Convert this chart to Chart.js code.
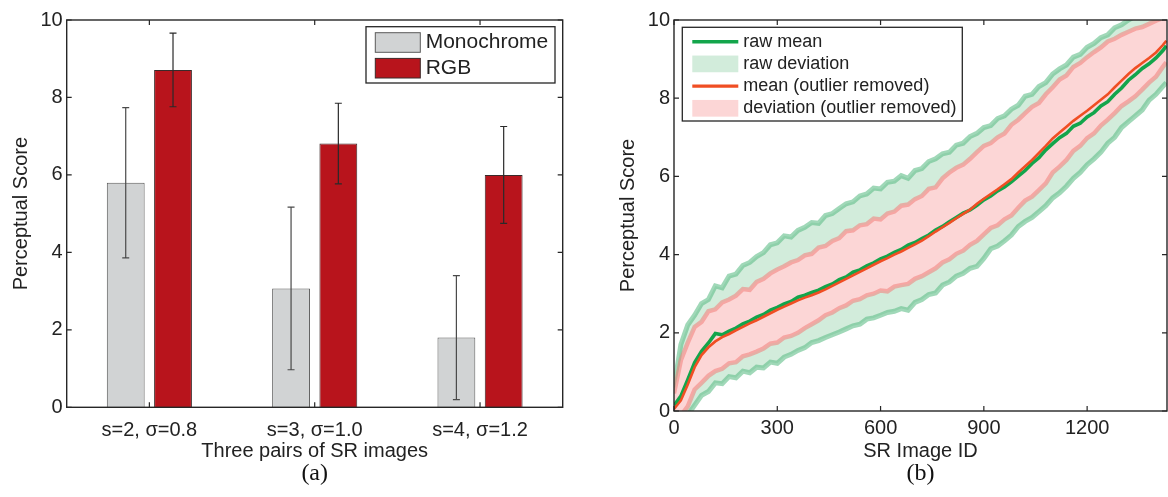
<!DOCTYPE html>
<html>
<head>
<meta charset="utf-8">
<title>Perceptual scores of SR images</title>
<script src="https://cdn.jsdelivr.net/npm/chart.js@4.4.1/dist/chart.umd.min.js"></script>
<style>
    html, body { margin: 0; padding: 0; background: #fff; }
    .panel { position: absolute; top: 0; width: 584px; height: 497px; }
</style>
</head>
<body>
<div class="panel" style="left:0"><canvas id="chart-a" width="584" height="497"></canvas></div>
<div class="panel" style="left:584px"><canvas id="chart-b" width="584" height="497"></canvas></div>
<script>
// (a) three pairs of SR images
const groupLabels = ['s=2, σ=0.8', 's=3, σ=1.0', 's=4, σ=1.2'];
const monoScore = [5.80, 3.07, 1.80];
const monoErr = [1.94, 2.10, 1.60];
const rgbScore = [8.71, 6.81, 6.00];
const rgbErr = [0.95, 1.04, 1.25];

// (b) per-image scores, every 20 ids
const idTicks = [0, 300, 600, 900, 1200];
const imageIds = [
    0, 20, 40, 60, 80, 100, 120, 140, 160, 180,
    200, 220, 240, 260, 280, 300, 320, 340, 360, 380,
    400, 420, 440, 460, 480, 500, 520, 540, 560, 580,
    600, 620, 640, 660, 680, 700, 720, 740, 760, 780,
    800, 820, 840, 860, 880, 900, 920, 940, 960, 980,
    1000, 1020, 1040, 1060, 1080, 1100, 1120, 1140, 1160, 1180,
    1200, 1220, 1240, 1260, 1280, 1300, 1320, 1340, 1360, 1380,
    1400, 1420, 1430
];
const rawMean = [
    0.14, 0.38, 0.80, 1.24, 1.53, 1.74, 1.98, 1.95, 2.04, 2.12,
    2.23, 2.30, 2.40, 2.47, 2.58, 2.65, 2.74, 2.80, 2.91, 2.96,
    3.03, 3.09, 3.18, 3.25, 3.36, 3.43, 3.55, 3.61, 3.71, 3.79,
    3.89, 3.96, 4.06, 4.13, 4.24, 4.31, 4.41, 4.50, 4.63, 4.72,
    4.84, 4.95, 5.06, 5.14, 5.26, 5.40, 5.50, 5.63, 5.73, 5.86,
    6.01, 6.15, 6.33, 6.48, 6.68, 6.84, 6.99, 7.10, 7.28, 7.36,
    7.52, 7.63, 7.80, 7.91, 8.10, 8.26, 8.46, 8.60, 8.76, 8.88,
    9.03, 9.22, 9.34
];
const rawDevHigh = [
    0.60, 1.70, 2.20, 2.45, 2.75, 2.85, 3.20, 3.15, 3.45, 3.50,
    3.72, 3.80, 3.95, 4.05, 4.25, 4.30, 4.48, 4.45, 4.62, 4.70,
    4.82, 4.80, 5.00, 5.05, 5.18, 5.30, 5.35, 5.50, 5.55, 5.70,
    5.68, 5.85, 5.88, 6.02, 5.95, 6.15, 6.20, 6.38, 6.45, 6.58,
    6.62, 6.80, 6.85, 7.02, 7.10, 7.25, 7.30, 7.48, 7.55, 7.72,
    7.82, 8.05, 8.10, 8.30, 8.40, 8.62, 8.75, 8.85, 9.05, 9.12,
    9.30, 9.40, 9.55, 9.62, 9.80, 9.88, 10.0, 10.1, 10.2, 10.25,
    10.3, 10.4, 10.45
];
const rawDevLow = [
    -0.50, -0.35, -0.10, 0.15, 0.40, 0.50, 0.72, 0.70, 0.88, 0.85,
    1.02, 0.98, 1.12, 1.10, 1.25, 1.22, 1.38, 1.45, 1.55, 1.62,
    1.75, 1.80, 1.88, 1.95, 2.02, 2.10, 2.18, 2.22, 2.35, 2.38,
    2.45, 2.52, 2.55, 2.62, 2.58, 2.78, 2.85, 2.98, 3.02, 3.22,
    3.30, 3.45, 3.52, 3.65, 3.70, 3.90, 4.15, 4.22, 4.35, 4.50,
    4.72, 4.85, 4.95, 5.10, 5.25, 5.45, 5.58, 5.75, 5.95, 6.10,
    6.30, 6.45, 6.62, 6.85, 7.00, 7.25, 7.40, 7.55, 7.70, 7.95,
    8.10, 8.30, 8.40
];
const cleanMean = [
    0.05, 0.27, 0.68, 1.12, 1.43, 1.63, 1.78, 1.89, 1.97, 2.06,
    2.15, 2.24, 2.32, 2.41, 2.50, 2.59, 2.67, 2.75, 2.83, 2.90,
    2.96, 3.03, 3.11, 3.20, 3.29, 3.38, 3.47, 3.56, 3.65, 3.74,
    3.83, 3.91, 4.00, 4.08, 4.17, 4.26, 4.36, 4.47, 4.59, 4.70,
    4.81, 4.93, 5.04, 5.15, 5.30, 5.43, 5.55, 5.67, 5.80, 5.93,
    6.10, 6.26, 6.42, 6.60, 6.78, 6.97, 7.12, 7.27, 7.42, 7.55,
    7.68, 7.82, 7.96, 8.10, 8.28, 8.45, 8.62, 8.77, 8.90, 9.03,
    9.17, 9.36, 9.47
];
const cleanDevHigh = [
    0.45, 1.30, 1.75, 2.15, 2.28, 2.55, 2.60, 2.78, 2.85, 2.95,
    3.12, 3.10, 3.30, 3.38, 3.52, 3.62, 3.70, 3.80, 3.86, 3.98,
    4.02, 4.18, 4.22, 4.35, 4.42, 4.60, 4.62, 4.75, 4.78, 4.92,
    4.90, 5.05, 5.10, 5.25, 5.28, 5.42, 5.50, 5.68, 5.72, 5.95,
    6.10, 6.22, 6.30, 6.45, 6.62, 6.78, 6.85, 7.00, 7.10, 7.32,
    7.45, 7.62, 7.78, 7.88, 8.10, 8.28, 8.48, 8.58, 8.80, 8.90,
    9.05, 9.18, 9.30, 9.45, 9.52, 9.62, 9.70, 9.78, 9.82, 9.90,
    9.98, 10.05, 10.10
];
const cleanDevLow = [
    -0.30, -0.12, 0.12, 0.55, 0.72, 0.90, 1.02, 1.08, 1.22, 1.25,
    1.40, 1.45, 1.52, 1.60, 1.72, 1.75, 1.88, 1.92, 2.00, 2.12,
    2.22, 2.32, 2.45, 2.52, 2.63, 2.70, 2.82, 2.86, 2.96, 3.00,
    3.08, 3.06, 3.18, 3.22, 3.25, 3.38, 3.45, 3.55, 3.65, 3.80,
    3.88, 4.02, 4.10, 4.25, 4.35, 4.52, 4.68, 4.75, 4.90, 5.00,
    5.20, 5.38, 5.48, 5.65, 5.82, 6.10, 6.25, 6.42, 6.65, 6.78,
    6.98, 7.10, 7.30, 7.45, 7.62, 7.80, 7.92, 8.05, 8.22, 8.40,
    8.55, 8.80, 8.92
];

(function () {
    Chart.defaults.font.family = '"Liberation Sans", Arial, sans-serif';
    Chart.defaults.color = '#222';
    Chart.defaults.animation = false;

    const INK = '#262626';

    // matlab style box with inward ticks on all four sides
    function frameTicks(len) {
        return {
            id: 'frameTicks',
            afterDraw(chart) {
                const { ctx, chartArea: a } = chart;
                const x = chart.scales.x;
                const y = chart.scales.y;
                ctx.save();
                ctx.strokeStyle = INK;
                ctx.lineWidth = 1.2;
                ctx.beginPath();
                y.ticks.forEach((t, i) => {
                    const py = y.getPixelForTick(i);
                    ctx.moveTo(a.left, py); ctx.lineTo(a.left + len, py);
                    ctx.moveTo(a.right, py); ctx.lineTo(a.right - len, py);
                });
                x.ticks.forEach((t, i) => {
                    const px = x.getPixelForTick(i);
                    ctx.moveTo(px, a.bottom); ctx.lineTo(px, a.bottom - len);
                    ctx.moveTo(px, a.top); ctx.lineTo(px, a.top + len);
                });
                ctx.stroke();
                ctx.lineWidth = 1.4;
                ctx.strokeRect(a.left, a.top, a.right - a.left, a.bottom - a.top);
                ctx.restore();
            }
        };
    }

    function errorBars(errs, colors) {
        return {
            id: 'errorBars',
            afterDatasetsDraw(chart) {
                const { ctx } = chart;
                const y = chart.scales.y;
                ctx.save();
                ctx.lineWidth = 1.2;
                errs.forEach((err, di) => {
                    const values = chart.data.datasets[di].data;
                    ctx.strokeStyle = colors[di];
                    chart.getDatasetMeta(di).data.forEach((bar, i) => {
                        const top = y.getPixelForValue(values[i] + err[i]);
                        const bottom = y.getPixelForValue(values[i] - err[i]);
                        ctx.beginPath();
                        ctx.moveTo(bar.x, top); ctx.lineTo(bar.x, bottom);
                        ctx.moveTo(bar.x - 3.5, top); ctx.lineTo(bar.x + 3.5, top);
                        ctx.moveTo(bar.x - 3.5, bottom); ctx.lineTo(bar.x + 3.5, bottom);
                        ctx.stroke();
                    });
                });
                ctx.restore();
            }
        };
    }

    // boxed legend inside the plot, like the original figure
    function boxLegend(cfg) {
        return {
            id: 'boxLegend',
            afterDraw(chart) {
                const { ctx } = chart;
                ctx.save();
                ctx.fillStyle = '#fff';
                ctx.fillRect(cfg.left, cfg.top, cfg.width, cfg.height);
                ctx.strokeStyle = INK;
                ctx.lineWidth = 1.3;
                ctx.strokeRect(cfg.left, cfg.top, cfg.width, cfg.height);
                ctx.font = cfg.fontSize + 'px "Liberation Sans", Arial, sans-serif';
                ctx.textBaseline = 'middle';
                cfg.items.forEach((it, i) => {
                    const ds = chart.data.datasets[it.dataset];
                    const cy = cfg.firstRow + i * cfg.rowGap;
                    if (it.kind === 'line') {
                        ctx.strokeStyle = it.color || ds.borderColor;
                        ctx.lineWidth = it.lineWidth;
                        ctx.beginPath();
                        ctx.moveTo(cfg.swatchLeft, cy);
                        ctx.lineTo(cfg.swatchLeft + cfg.swatchWidth, cy);
                        ctx.stroke();
                    } else {
                        ctx.fillStyle = it.fill || ds.backgroundColor;
                        ctx.fillRect(cfg.swatchLeft, cy - it.h / 2, cfg.swatchWidth, it.h);
                        if (it.edge) {
                            ctx.strokeStyle = it.edge;
                            ctx.lineWidth = 1;
                            ctx.strokeRect(cfg.swatchLeft, cy - it.h / 2, cfg.swatchWidth, it.h);
                        }
                    }
                    ctx.fillStyle = '#222';
                    ctx.fillText(ds.label, cfg.textLeft, cy);
                });
                ctx.restore();
            }
        };
    }

    function panelTitle(text) {
        return {
            display: true,
            text: text,
            position: 'bottom',
            fullSize: false,
            color: '#111',
            font: { family: '"Liberation Serif", "Times New Roman", serif', size: 24, weight: 'normal', lineHeight: 1 },
            padding: { top: 0.7, bottom: 11.3 }
        };
    }

    // ---- (a) bar chart ----
    new Chart(document.getElementById('chart-a'), {
        type: 'bar',
        data: {
            labels: groupLabels,
            datasets: [
                {
                    label: 'Monochrome',
                    data: monoScore,
                    backgroundColor: '#d1d3d4',
                    borderColor: '#5a5a5a',
                    borderWidth: 1,
                    categoryPercentage: 0.572,
                    barPercentage: 0.8
                },
                {
                    label: 'RGB',
                    data: rgbScore,
                    backgroundColor: '#b8141c',
                    borderColor: '#3a2a2a',
                    borderWidth: 1,
                    categoryPercentage: 0.572,
                    barPercentage: 0.8
                }
            ]
        },
        options: {
            responsive: false,
            devicePixelRatio: 1,
            events: [],
            layout: { padding: { left: 0, right: 21.3, top: 20, bottom: 0 } },
            plugins: {
                legend: { display: false },
                tooltip: { enabled: false },
                title: panelTitle('(a)')
            },
            scales: {
                x: {
                    grid: { display: false, drawTicks: false },
                    border: { display: false },
                    ticks: { font: { size: 20 }, padding: 11 },
                    title: { display: true, text: 'Three pairs of SR images', font: { size: 20, lineHeight: 1 }, padding: { top: 0, bottom: 0 } },
                    afterFit: (scale) => { scale.height = 53.7; }
                },
                y: {
                    min: 0,
                    max: 10,
                    grid: { display: false, drawTicks: false },
                    border: { display: false },
                    ticks: { stepSize: 2, font: { size: 20 }, padding: 4 },
                    title: { display: true, text: 'Perceptual Score', font: { size: 20, lineHeight: 1 }, padding: { top: 11, bottom: 0 } },
                    afterFit: (scale) => { scale.width = 66.7; }
                }
            }
        },
        plugins: [
            errorBars([monoErr, rgbErr], ['#4a4a4a', '#2a2a2a']),
            frameTicks(5),
            boxLegend({
                left: 366, top: 26.7, width: 189, height: 56.3,
                swatchLeft: 375.3, swatchWidth: 45, textLeft: 425.7,
                firstRow: 42.5, rowGap: 25.7, fontSize: 21,
                items: [
                    { dataset: 0, kind: 'rect', h: 19.6, edge: '#5a5a5a' },
                    { dataset: 1, kind: 'rect', h: 19.6, edge: '#3a2a2a' }
                ]
            })
        ]
    });

    // ---- (b) per image scores ----
    const toPoints = (values) => imageIds.map((id, i) => ({ x: id, y: values[i] }));
    const thin = { pointRadius: 0, tension: 0, fill: false };
    // the deviation edges are very noisy in the figure, so they are drawn as soft wide strokes
    const rawEdge = 'rgba(96, 190, 136, 0.6)';
    const cleanEdge = 'rgba(242, 134, 128, 0.6)';

    new Chart(document.getElementById('chart-b'), {
        type: 'line',
        data: {
            datasets: [
                Object.assign({}, thin, { label: 'mean (outlier removed)', data: toPoints(cleanMean), borderColor: '#f04e23', borderWidth: 2.6 }),
                Object.assign({}, thin, { label: 'raw mean', data: toPoints(rawMean), borderColor: '#13a54b', borderWidth: 3.6 }),
                Object.assign({}, thin, { label: 'deviation low (outlier removed)', data: toPoints(cleanDevLow), borderColor: cleanEdge, borderWidth: 4.5 }),
                Object.assign({}, thin, { label: 'deviation (outlier removed)', data: toPoints(cleanDevHigh), borderColor: cleanEdge, borderWidth: 4.5, fill: '-1', backgroundColor: '#fcd6d6' }),
                Object.assign({}, thin, { label: 'raw deviation low', data: toPoints(rawDevLow), borderColor: rawEdge, borderWidth: 5 }),
                Object.assign({}, thin, { label: 'raw deviation', data: toPoints(rawDevHigh), borderColor: rawEdge, borderWidth: 5, fill: '-1', backgroundColor: '#d2ecdb' })
            ]
        },
        options: {
            responsive: false,
            devicePixelRatio: 1,
            events: [],
            layout: { padding: { left: 0, right: 1, top: 20, bottom: 0 } },
            plugins: {
                legend: { display: false },
                tooltip: { enabled: false },
                title: panelTitle('(b)')
            },
            scales: {
                x: {
                    type: 'linear',
                    min: 0,
                    max: 1432,
                    grid: { display: false, drawTicks: false },
                    border: { display: false },
                    ticks: { font: { size: 20 }, padding: 5, callback: (v) => String(v) },
                    afterBuildTicks: (scale) => { scale.ticks = idTicks.map((v) => ({ value: v })); },
                    title: { display: true, text: 'SR Image ID', font: { size: 20, lineHeight: 1 }, padding: { top: 0, bottom: 0 } },
                    afterFit: (scale) => { scale.height = 50; }
                },
                y: {
                    min: 0,
                    max: 10,
                    grid: { display: false, drawTicks: false },
                    border: { display: false },
                    ticks: { stepSize: 2, font: { size: 20 }, padding: 4 },
                    title: { display: true, text: 'Perceptual Score', font: { size: 20, lineHeight: 1 }, padding: { top: 34, bottom: 0 } },
                    afterFit: (scale) => { scale.width = 90; }
                }
            }
        },
        plugins: [
            frameTicks(5),
            boxLegend({
                left: 98.3, top: 27.3, width: 280, height: 93.7,
                swatchLeft: 108.3, swatchWidth: 46, textLeft: 159.3,
                firstRow: 41.7, rowGap: 22.2, fontSize: 18,
                items: [
                    { dataset: 1, kind: 'line', lineWidth: 3.4 },
                    { dataset: 5, kind: 'rect', h: 16.7 },
                    { dataset: 0, kind: 'line', lineWidth: 3.4 },
                    { dataset: 3, kind: 'rect', h: 16.7 }
                ]
            })
        ]
    });
})();
</script>
</body>
</html>
